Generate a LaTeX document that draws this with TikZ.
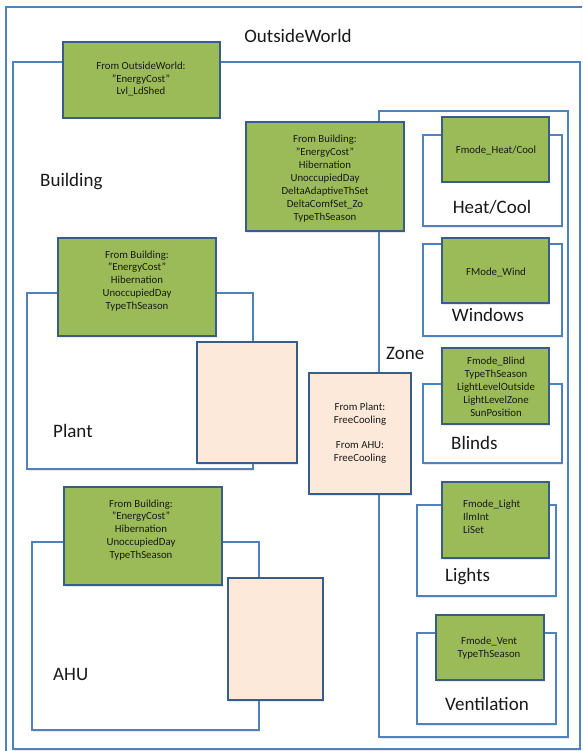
\documentclass[tikz,border=0pt]{standalone}
\usepackage{fontspec}
\setmainfont{Carlito}
\usetikzlibrary{shadows}
\definecolor{cline}{HTML}{4F81BD}
\definecolor{bdark}{HTML}{385D8A}
\definecolor{gfill}{HTML}{9BBB59}
\definecolor{pfill}{HTML}{FDE9D9}
\tikzset{
  shad/.style={drop shadow={opacity=0.18, shadow xshift=1.2pt, shadow yshift=-1.5pt}},
  cont/.style={draw=cline, line width=2.2pt, fill=white, anchor=north west, inner sep=0pt, outer sep=0pt, shad},
  gbox/.style={draw=bdark, line width=2.2pt, fill=gfill, anchor=north west, inner sep=0pt, outer sep=0pt, shad},
  pbox/.style={draw=bdark, line width=2.2pt, fill=pfill, anchor=north west, inner sep=0pt, outer sep=0pt, shad},
  big/.style={font=\fontsize{19}{22}\selectfont, inner sep=0pt, text=black!90},
  small/.style={font=\fontsize{10.8}{12.9}\selectfont, align=center, inner sep=0pt, text=black!90},
}
\newcommand{\bx}[6]{\node[#1, minimum width={#5-#3}, minimum height={#6-#4}] (#2) at (#3,#4) {};}
\begin{document}
\begin{tikzpicture}[x=1pt,y=-1pt]
\useasboundingbox (0,0) rectangle (582,751);
\clip (0,0) rectangle (582,751);
% containers
\bx{cont}{outside}{6}{7}{600}{770}
\bx{cont}{building}{13}{62}{580}{749}
\bx{cont}{zone}{379}{111}{568}{737}
\bx{cont}{plant}{27}{293}{253}{469}
\bx{cont}{ahu}{32}{542}{259}{730}
\bx{cont}{heatcool}{423}{135}{562}{226}
\bx{cont}{windows}{423}{244}{562}{336}
\bx{cont}{blinds}{423}{384}{562}{463}
\bx{cont}{lights}{417}{505}{556}{596}
\bx{cont}{vent}{417}{633}{556}{724}
% green boxes
\bx{gbox}{gow}{63}{42}{220}{118}
\bx{gbox}{gzone}{246}{122}{404}{231}
\bx{gbox}{gplant}{58}{238}{216}{336}
\bx{gbox}{gahu}{64}{487}{222}{585}
\bx{gbox}{ghc}{442}{117}{549}{182}
\bx{gbox}{gwin}{442}{238}{549}{303}
\bx{gbox}{gbl}{442}{348}{549}{424}
\bx{gbox}{gli}{442}{482}{549}{558}
\bx{gbox}{gve}{436}{615}{544}{680}
% peach boxes
\bx{pbox}{pplant}{197}{342}{297}{463}
\bx{pbox}{pzone}{309}{373}{411}{494}
\bx{pbox}{pahu}{228}{578}{323}{700}
% big labels
\node[big] (tow) at (298,36) {OutsideWorld};
\node[big, anchor=west] (tbuild) at (40,182) {Building};
\node[big, anchor=west] (tzone) at (386,353) {Zone};
\node[big, anchor=west] (tplant) at (53,431) {Plant};
\node[big, anchor=west] (tahu) at (53,674) {AHU};
\node[big] (thc) at (492,207) {Heat/Cool};
\node[big] (twin) at (488,315) {Windows};
\node[big, anchor=west] (tbl) at (451,443) {Blinds};
\node[big, anchor=west] (tli) at (445,577) {Lights};
\node[big] (tve) at (487,704) {Ventilation};
% small texts
\node[small] (sow) at (141,79) {From OutsideWorld:\\”EnergyCost”\\Lvl\_LdShed};
\node[small] (szone) at (325,178.5) {From Building:\\”EnergyCost”\\Hibernation\\UnoccupiedDay\\DeltaAdaptiveThSet\\DeltaComfSet\_Zo\\TypeThSeason};
\node[small] (splant) at (137,281) {From Building:\\”EnergyCost”\\Hibernation\\UnoccupiedDay\\TypeThSeason};
\node[small] (sahu) at (141,530) {From Building:\\”EnergyCost”\\Hibernation\\UnoccupiedDay\\TypeThSeason};
\node[small] (shc) at (496,150) {Fmode\_Heat/Cool};
\node[small] (swin) at (496,272) {FMode\_Wind};
\node[small] (sbl) at (496,387) {Fmode\_Blind\\TypeThSeason\\LightLevelOutside\\LightLevelZone\\SunPosition};
\node[small, align=left, anchor=west] (sli) at (463,517) {Fmode\_Light\\IlmInt\\LiSet};
\node[small] (sve) at (489,648.5) {Fmode\_Vent\\TypeThSeason};
\node[small] (spz) at (360,433.5) {From Plant:\\FreeCooling\\[12pt]From AHU:\\FreeCooling};
\end{tikzpicture}
\end{document}
